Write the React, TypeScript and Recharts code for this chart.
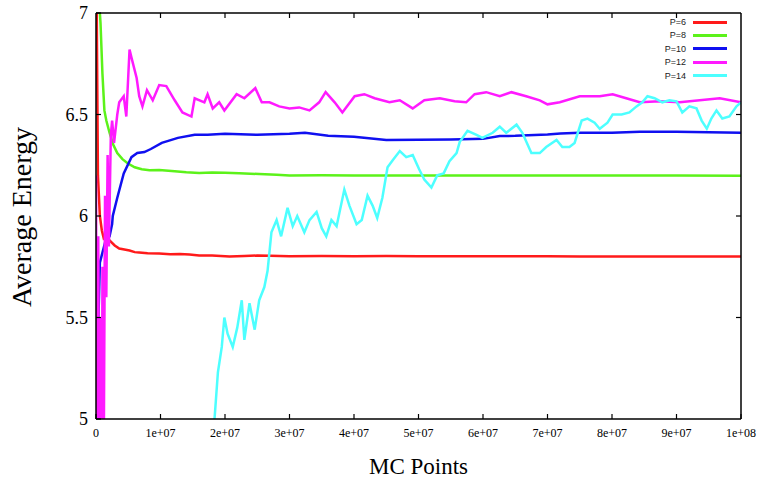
import React from "react";
import { LineChart, Line, XAxis, YAxis } from "recharts";

// x in units of 1e6 MC points, y = average energy
const p6Points: [number, number][] = [
  [0, 7.5], [0.3, 6.2], [0.6, 6.0], [0.9, 5.93], [1.2, 5.89], [1.6, 5.9], [2.1, 5.88],
  [2.9, 5.855], [3.6, 5.84], [4.4, 5.835], [5.2, 5.83], [6.0, 5.822], [6.7, 5.82],
  [8.0, 5.817], [9.8, 5.815], [11.5, 5.812], [13, 5.813], [14.5, 5.81], [16, 5.806],
  [18, 5.805], [20.7, 5.8], [23, 5.803], [25, 5.805], [27, 5.804], [30, 5.802],
  [35, 5.803], [40, 5.802], [45, 5.803], [50, 5.802], [60, 5.802], [70, 5.802],
  [75, 5.801], [80, 5.801], [90, 5.801], [100, 5.801],
];

const p8Points: [number, number][] = [
  [0, 7.8], [0.5, 7.05], [0.7, 6.95], [1.0, 6.7], [1.3, 6.52], [1.6, 6.47], [2.1, 6.41],
  [2.7, 6.35], [3.3, 6.31], [4.1, 6.28], [4.9, 6.26], [6.0, 6.24], [7.1, 6.23],
  [8.3, 6.225], [9.8, 6.227], [12.2, 6.22], [14, 6.215], [16, 6.212], [18, 6.214],
  [20, 6.213], [22.2, 6.21], [25.3, 6.207], [28, 6.203], [30, 6.2], [35, 6.201],
  [40, 6.2], [50, 6.2], [60, 6.2], [70, 6.199], [80, 6.2], [90, 6.2], [100, 6.198],
];

const p10Points: [number, number][] = [
  [0, 4.2], [0.3, 5.4], [0.6, 5.77], [1.0, 5.82], [1.5, 5.88], [2.1, 5.9], [2.5, 5.96],
  [2.6, 6.0], [3.3, 6.09], [4.3, 6.21], [5.5, 6.29], [6.4, 6.31], [7.5, 6.315],
  [8.5, 6.33], [10.2, 6.36], [12.7, 6.385], [15.3, 6.4], [17.3, 6.4], [20, 6.405],
  [25, 6.4], [30, 6.405], [32.4, 6.41], [36, 6.395], [40, 6.39], [45, 6.374],
  [50, 6.376], [55, 6.377], [60, 6.38], [62.6, 6.394], [65, 6.395], [70, 6.402],
  [72, 6.407], [75, 6.41], [80, 6.41], [84.3, 6.415], [90, 6.415], [95, 6.412],
  [100, 6.41],
];

const p12Points: [number, number][] = [
  [0, 6.2], [0.15, 4.5], [0.35, 5.9], [0.5, 4.6], [0.7, 5.5], [0.9, 4.5], [1.0, 5.75],
  [1.2, 4.8], [1.4, 6.1], [1.6, 5.6], [1.8, 6.3], [2.0, 5.85], [2.3, 6.4], [2.5, 6.47],
  [2.8, 6.36], [3.3, 6.5], [3.6, 6.56], [4.3, 6.59], [4.7, 6.49], [5.2, 6.82],
  [5.5, 6.78], [6.3, 6.68], [6.7, 6.59], [7.2, 6.54], [7.9, 6.62], [8.8, 6.57],
  [9.8, 6.645], [10.9, 6.64], [12.2, 6.57], [13.4, 6.51], [14.8, 6.49], [15.3, 6.58],
  [16.8, 6.56], [17.3, 6.6], [18.1, 6.53], [19.1, 6.56], [19.9, 6.52], [21.8, 6.6],
  [23.0, 6.58], [24.7, 6.63], [25.7, 6.56], [26.9, 6.56], [28.4, 6.54], [30.0, 6.53],
  [31.5, 6.535], [33.1, 6.52], [34.6, 6.56], [35.6, 6.61], [37.0, 6.56], [38.2, 6.51],
  [40.1, 6.59], [41.6, 6.6], [43.2, 6.58], [45.5, 6.56], [47.1, 6.57], [49.1, 6.53],
  [50.9, 6.57], [53.3, 6.58], [55.6, 6.565], [57.4, 6.56], [58.7, 6.6], [60.5, 6.61],
  [62.6, 6.59], [64.4, 6.61], [66.7, 6.59], [68.8, 6.57], [70.0, 6.55], [71.9, 6.56],
  [75.0, 6.59], [78.1, 6.59], [80.1, 6.6], [82.2, 6.58], [84.3, 6.56], [87.4, 6.565],
  [90.5, 6.56], [93.6, 6.57], [96.7, 6.58], [100, 6.56],
];

const p14Points: [number, number][] = [
  [14, 4.3], [16.5, 4.98], [17.5, 4.7], [18.4, 5.01], [18.9, 5.23], [19.5, 5.355],
  [19.9, 5.5], [20.4, 5.42], [21.2, 5.355], [21.9, 5.45], [22.6, 5.585], [23.0, 5.39],
  [23.8, 5.57], [24.6, 5.44], [25.3, 5.585], [26.1, 5.65], [26.6, 5.73], [27.2, 5.92],
  [28.0, 5.98], [28.7, 5.9], [29.7, 6.04], [30.5, 5.95], [31.2, 6.0], [32.3, 5.92],
  [33.1, 5.98], [34.2, 6.02], [35.0, 5.94], [35.7, 5.9], [36.5, 5.98], [37.3, 5.95],
  [38.5, 6.13], [39.3, 6.05], [40.4, 5.96], [41.2, 5.98], [42.1, 6.1], [42.9, 6.05],
  [43.6, 5.99], [44.4, 6.09], [45.2, 6.24], [46.0, 6.275], [47.1, 6.32], [48.1, 6.29],
  [49.1, 6.3], [50.1, 6.23], [50.9, 6.18], [52.0, 6.14], [52.9, 6.2], [53.9, 6.21],
  [54.8, 6.27], [55.9, 6.31], [56.4, 6.365], [57.6, 6.42], [59.0, 6.4], [59.9, 6.385],
  [61.5, 6.41], [62.6, 6.44], [63.6, 6.41], [65.2, 6.45], [66.1, 6.41], [67.5, 6.31],
  [68.8, 6.31], [69.8, 6.34], [71.4, 6.375], [72.3, 6.34], [73.4, 6.34], [74.2, 6.36],
  [75.3, 6.47], [76.2, 6.48], [77.3, 6.46], [78.1, 6.43], [79.3, 6.46], [80.1, 6.5],
  [81.5, 6.5], [82.7, 6.51], [83.8, 6.54], [84.7, 6.56], [85.5, 6.59], [86.6, 6.58],
  [87.8, 6.56], [88.9, 6.57], [90.0, 6.565], [90.9, 6.51], [92.0, 6.54], [93.1, 6.53],
  [93.9, 6.47], [94.7, 6.43], [95.4, 6.48], [96.2, 6.52], [97.1, 6.48], [98.2, 6.49],
  [99.3, 6.54], [100, 6.56],
];

const seriesNames = ["P=6", "P=8", "P=10", "P=12", "P=14"];
const seriesColors = ["#ff1a1a", "#5cf21a", "#1010f0", "#ff1aff", "#4dffff"];
const seriesPoints = [p6Points, p8Points, p10Points, p12Points, p14Points];

const xTicks = [0, 10, 20, 30, 40, 50, 60, 70, 80, 90, 100];
const xTickLabels = ["0", "1e+07", "2e+07", "3e+07", "4e+07", "5e+07", "6e+07", "7e+07", "8e+07", "9e+07", "1e+08"];
const yTicks = [5, 5.5, 6, 6.5, 7];
const yTickLabels = ["5", "5.5", "6", "6.5", "7"];

const serif = "'Liberation Serif', 'Times New Roman', serif";

// layout of the plot box (px)
const CHART_W = 760;
const CHART_H = 481;
const MARGIN = { top: 13, right: 19, bottom: 0, left: 0 };
const Y_AXIS_W = 96;
const X_AXIS_H = 62;
const PLOT_TOP = MARGIN.top;
const PLOT_LEFT = MARGIN.left + Y_AXIS_W;
const PLOT_RIGHT = CHART_W - MARGIN.right;
const PLOT_BOTTOM = CHART_H - MARGIN.bottom - X_AXIS_H;
const TICK = 5;

// bottom tick label + mirrored tick mark on the top edge
function XTick(props: any) {
  const { x, y, payload } = props;
  const i = xTicks.indexOf(payload.value);
  const inner = i > 0 && i < xTicks.length - 1;
  return (
    <g>
      {inner && <line x1={x} x2={x} y1={PLOT_TOP} y2={PLOT_TOP + TICK} stroke="#000" strokeWidth={1.2} />}
      <text x={x} y={y} dy="0.71em" textAnchor="middle" fontFamily={serif} fontSize={12} fill="#000">
        {xTickLabels[i]}
      </text>
    </g>
  );
}

// left tick label + mirrored tick on the right edge; the top tick also closes the frame
function YTick(props: any) {
  const { x, y, payload } = props;
  const i = yTicks.indexOf(payload.value);
  const last = i === yTicks.length - 1;
  const inner = i > 0 && !last;
  return (
    <g>
      {inner && <line x1={PLOT_RIGHT - TICK} x2={PLOT_RIGHT} y1={y} y2={y} stroke="#000" strokeWidth={1.2} />}
      {last && <line x1={PLOT_LEFT} x2={PLOT_RIGHT} y1={y} y2={y} stroke="#000" strokeWidth={1.5} />}
      {last && <line x1={PLOT_RIGHT} x2={PLOT_RIGHT} y1={y} y2={PLOT_BOTTOM} stroke="#000" strokeWidth={1.5} />}
      <text x={x} y={y} dy="0.355em" textAnchor="end" fontFamily={serif} fontSize={18} fill="#000">
        {yTickLabels[i]}
      </text>
    </g>
  );
}

// gnuplot-style key in the top right corner, laid over the chart
function KeyBox() {
  return (
    <div style={{ position: "absolute", left: 0, top: 0, width: 760, height: 90, fontFamily: "'Liberation Sans', Arial, sans-serif", fontSize: 9, pointerEvents: "none" }}>
      {seriesNames.map((name, i) => {
        const yc = 22 + i * 13.4;
        return (
          <React.Fragment key={name}>
            <div style={{ position: "absolute", right: 74, top: yc - 6, lineHeight: "12px", color: "#222" }}>{name}</div>
            <div style={{ position: "absolute", left: 693, width: 34, top: yc - 1.5, height: 3, background: seriesColors[i] }} />
          </React.Fragment>
        );
      })}
    </div>
  );
}

export default function App() {
  const lineData = seriesPoints.map((pts) => pts.map(([x, y]) => ({ x, y })));

  return (
    <div style={{ position: "absolute", left: 0, top: 0, width: CHART_W, height: CHART_H, background: "#fff" }}>
      <LineChart width={CHART_W} height={CHART_H} margin={MARGIN}>
        <XAxis
          dataKey="x"
          type="number"
          domain={[0, 100]}
          ticks={xTicks}
          interval={0}
          allowDataOverflow
          height={X_AXIS_H}
          tickSize={-TICK}
          tickMargin={14}
          axisLine={{ stroke: "#000", strokeWidth: 1.5 }}
          tickLine={{ stroke: "#000", strokeWidth: 1.2 }}
          tick={XTick}
          label={{ value: "MC Points", position: "insideBottom", offset: 7, style: { fontFamily: serif, fontSize: 23, fill: "#000" } }}
        />
        <YAxis
          type="number"
          domain={[5, 7]}
          ticks={yTicks}
          interval={0}
          allowDataOverflow
          width={Y_AXIS_W}
          tickSize={-TICK}
          tickMargin={13}
          axisLine={{ stroke: "#000", strokeWidth: 1.5 }}
          tickLine={{ stroke: "#000", strokeWidth: 1.2 }}
          tick={YTick}
          label={() => (
            <text x={31} y={217} transform="rotate(-90 31 217)" textAnchor="middle" fontFamily={serif} fontSize={28} fill="#000">
              Average Energy
            </text>
          )}
        />
        {lineData.map((d, i) => (
          <Line
            key={seriesNames[i]}
            data={d}
            dataKey="y"
            name={seriesNames[i]}
            type="linear"
            stroke={seriesColors[i]}
            strokeWidth={2.5}
            dot={false}
            isAnimationActive={false}
          />
        ))}
      </LineChart>
      <KeyBox />
    </div>
  );
}
